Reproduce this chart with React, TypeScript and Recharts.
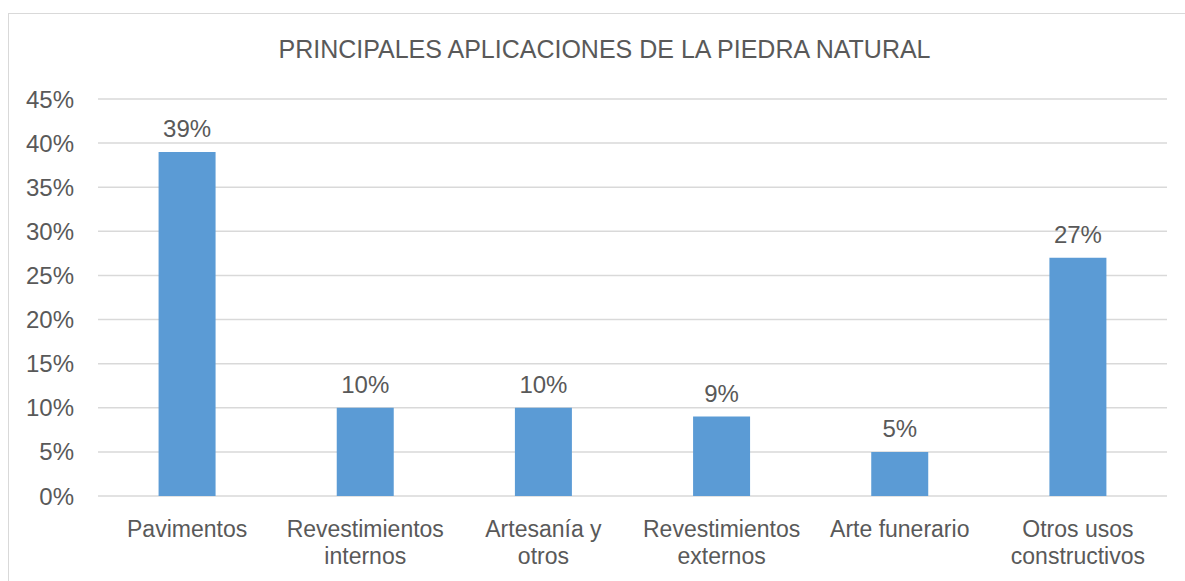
import React from "react";
import { BarChart, Bar, XAxis, YAxis, CartesianGrid, LabelList } from "recharts";

const categories = [
  "Pavimentos",
  "Revestimientos\ninternos",
  "Artesanía y\notros",
  "Revestimientos\nexternos",
  "Arte funerario",
  "Otros usos\nconstructivos",
];
const values = [39, 10, 10, 9, 5, 27];
const yTicks = [0, 5, 10, 15, 20, 25, 30, 35, 40, 45];

const data = categories.map((name, i) => ({ name, value: values[i] }));

const FONT = "'Liberation Sans', Arial, sans-serif";
const TEXT = "#595959";

// category labels, broken over two lines where the original wraps
const CategoryTick = (props: any) => {
  const { x, y, payload } = props;
  const lines = String(payload.value).split("\n");
  return (
    <g transform={`translate(${x},${y})`}>
      {lines.map((line, i) => (
        <text
          key={i}
          x={0}
          y={i * 27}
          dy={33}
          textAnchor="middle"
          fill={TEXT}
          fontSize={23}
          fontFamily={FONT}
        >
          {line}
        </text>
      ))}
    </g>
  );
};

const App = () => {
  return (
    <div
      style={{
        position: "fixed",
        left: 0,
        top: 0,
        width: 1185,
        height: 581,
        overflow: "hidden",
        background: "#fff",
      }}
    >
      <div
        style={{
          position: "absolute",
          left: 8,
          top: 13,
          width: 1192,
          height: 600,
          borderTop: "1px solid #d9d9d9",
          borderLeft: "1px solid #d9d9d9",
          boxSizing: "border-box",
        }}
      >
        <div
          style={{
            position: "absolute",
            top: 23,
            left: 0,
            width: "100%",
            textAlign: "center",
            fontFamily: FONT,
            fontSize: 25,
            lineHeight: "25px",
            color: TEXT,
          }}
        >
          PRINCIPALES APLICACIONES DE LA PIEDRA NATURAL
        </div>
        <BarChart
          width={1190}
          height={570}
          data={data}
          margin={{ top: 85, right: 32, left: 29, bottom: 28 }}
          barCategoryGap="34%"
        >
          <CartesianGrid vertical={false} stroke="#d9d9d9" strokeWidth={1.5} />
          <XAxis
            dataKey="name"
            axisLine={false}
            tickLine={false}
            interval={0}
            height={60}
            tick={<CategoryTick />}
          />
          <YAxis
            domain={[0, 45]}
            ticks={yTicks}
            width={60}
            axisLine={false}
            tickLine={false}
            tickMargin={18}
            tickFormatter={(v: number) => `${v}%`}
            tick={{ fill: TEXT, fontSize: 24, fontFamily: FONT }}
          />
          <Bar dataKey="value" fill="#5b9bd5" isAnimationActive={false}>
            <LabelList
              dataKey="value"
              position="top"
              offset={15}
              formatter={(v: any) => `${v}%`}
              style={{ fill: TEXT, fontSize: 24, fontFamily: FONT }}
            />
          </Bar>
        </BarChart>
      </div>
    </div>
  );
};

export default App;
